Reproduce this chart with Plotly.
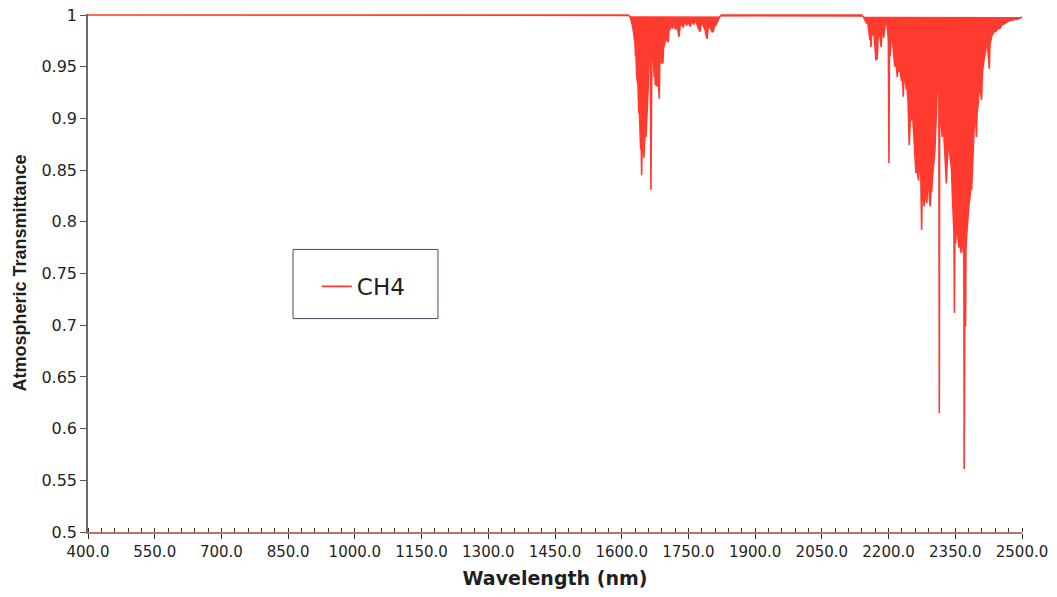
import plotly.graph_objects as go

# ---- data ----
wavelength_nm = [
    400, 1615, 1619, 1622, 1624, 1626, 1628, 1629.8, 1631, 1632, 1633.5, 1635, 1636,
    1637.2, 1638.5, 1639.5, 1641, 1642.5, 1643.5, 1644.8, 1645.8, 1647, 1648.5, 1650,
    1651.5, 1653, 1654.5, 1655.5, 1656.7, 1658, 1659.5, 1660.5, 1662, 1663.5, 1664.5,
    1665.7, 1666.7, 1668, 1669.5, 1671, 1673, 1674.5, 1675.5, 1676.5, 1678, 1679,
    1680.5, 1682, 1684.5, 1685.5, 1687, 1689.8, 1691, 1692.5, 1694, 1697, 1699, 1701,
    1704.7, 1706, 1708, 1711, 1714, 1718, 1721, 1724, 1727, 1729, 1731, 1735, 1738,
    1742, 1746, 1750, 1754, 1758, 1762, 1766, 1770, 1773, 1776, 1778, 1781, 1784,
    1788, 1790, 1792, 1794, 1797, 1800, 1803, 1806, 1808, 1811, 1814, 1817, 1820, 1824,
    2140, 2144, 2148, 2150.6, 2153, 2155, 2158, 2159, 2160.5, 2162, 2164, 2166, 2168,
    2170, 2171.6, 2173, 2174.5, 2176, 2178, 2180.5, 2182, 2183.5, 2185, 2187, 2189,
    2191, 2193, 2195.6, 2198, 2199.5, 2200.8, 2202, 2203.5, 2205, 2207, 2209, 2211,
    2213, 2214, 2215.5, 2217, 2219.5, 2221, 2223, 2225, 2227, 2229, 2231, 2233, 2234.5,
    2236, 2238, 2240, 2242, 2244, 2246.5, 2248, 2250, 2252, 2254, 2256, 2258, 2259.5,
    2261.5, 2263, 2264.5, 2266, 2267.5, 2269, 2271, 2272.5, 2274.3, 2276, 2278, 2280,
    2282, 2284, 2286, 2288, 2290, 2292, 2293.7, 2295, 2297, 2299, 2300.4, 2302, 2304,
    2306, 2308, 2310, 2312, 2313, 2314, 2315, 2316.5, 2318, 2320.7, 2322, 2324, 2326,
    2328, 2330, 2332, 2334, 2336, 2338, 2340, 2341.7, 2343.5, 2345.4, 2347, 2348, 2349,
    2350.6, 2352, 2354, 2356, 2358, 2360, 2362.7, 2364, 2366, 2368, 2369.3, 2370,
    2370.8, 2372, 2373, 2374, 2376, 2377.5, 2379, 2381, 2383, 2385, 2386.7, 2388.5,
    2390.5, 2392, 2394, 2396, 2397.5, 2399, 2401.6, 2403.5, 2405, 2407, 2409, 2411,
    2413, 2415, 2417, 2419, 2421, 2423, 2424.5, 2426.4, 2428, 2430, 2432, 2435.4, 2438,
    2441, 2444, 2447, 2450, 2454, 2458, 2462, 2466, 2470, 2473, 2478, 2484, 2490, 2495,
    2500,
]

ch4_transmittance = [
    1.0, 1.0, 0.998, 0.994, 0.990, 0.985, 0.980, 0.973, 0.960, 0.965, 0.944, 0.935, 0.940,
    0.918, 0.905, 0.912, 0.889, 0.870, 0.880, 0.845, 0.872, 0.868, 0.875, 0.862,
    0.878, 0.885, 0.882, 0.898, 0.893, 0.915, 0.930, 0.960, 0.979, 0.975, 0.965,
    0.831, 0.968, 0.972, 0.978, 0.955, 0.940, 0.950, 0.932, 0.952, 0.945, 0.931,
    0.955, 0.938, 0.919, 0.955, 0.962, 0.953, 0.960, 0.953, 0.968, 0.973, 0.980, 0.976,
    0.974, 0.985, 0.986, 0.990, 0.987, 0.991, 0.986, 0.990, 0.983, 0.979, 0.989, 0.992, 0.988,
    0.994, 0.990, 0.993, 0.989, 0.994, 0.991, 0.995, 0.990, 0.986, 0.984, 0.990, 0.993, 0.989,
    0.985, 0.980, 0.977, 0.986, 0.990, 0.987, 0.984, 0.984, 0.989, 0.990, 0.993, 0.995, 0.998, 1.0,
    1.0, 0.998, 0.995, 0.992, 0.994, 0.985, 0.976, 0.982, 0.969, 0.985, 0.980, 0.990, 0.975,
    0.962, 0.956, 0.970, 0.957, 0.975, 0.985, 0.979, 0.972, 0.969, 0.984, 0.990, 0.978,
    0.988, 0.994, 0.992, 0.985, 0.975, 0.857, 0.970, 0.960, 0.975, 0.985, 0.975, 0.965,
    0.955, 0.950, 0.962, 0.950, 0.940, 0.952, 0.945, 0.950, 0.942, 0.936, 0.945, 0.921, 0.940,
    0.945, 0.935, 0.928, 0.930, 0.915, 0.874, 0.905, 0.912, 0.898, 0.905, 0.890, 0.875, 0.866,
    0.847, 0.862, 0.850, 0.844, 0.840, 0.858, 0.852, 0.845, 0.792, 0.840, 0.825, 0.815,
    0.830, 0.822, 0.818, 0.835, 0.840, 0.822, 0.815, 0.828, 0.830, 0.845, 0.853, 0.860, 0.868,
    0.890, 0.908, 0.925, 0.950, 0.965, 0.615, 0.960, 0.905, 0.895, 0.882, 0.905, 0.890, 0.865,
    0.850, 0.837, 0.860, 0.869, 0.880, 0.865, 0.855, 0.850, 0.825, 0.805, 0.790, 0.712, 0.785,
    0.779, 0.790, 0.799, 0.785, 0.775, 0.790, 0.770, 0.785, 0.780, 0.770, 0.775, 0.561,
    0.770, 0.775, 0.699, 0.775, 0.790, 0.800, 0.808, 0.818, 0.824, 0.835, 0.831, 0.850,
    0.882, 0.895, 0.908, 0.900, 0.882, 0.905, 0.915, 0.930, 0.934, 0.925, 0.918, 0.945,
    0.953, 0.958, 0.962, 0.970, 0.973, 0.968, 0.960, 0.948, 0.972, 0.978, 0.980, 0.982, 0.985,
    0.984, 0.986, 0.988, 0.987, 0.990, 0.991, 0.992, 0.993, 0.994, 0.995, 0.995, 0.996, 0.996, 0.997,
    0.998,
]

x_tick_values = [400, 550, 700, 850, 1000, 1150, 1300, 1450, 1600, 1750, 1900, 2050, 2200, 2350, 2500]
x_tick_labels = ["400.0", "550.0", "700.0", "850.0", "1000.0", "1150.0", "1300.0", "1450.0",
                 "1600.0", "1750.0", "1900.0", "2050.0", "2200.0", "2350.0", "2500.0"]
y_tick_values = [0.5, 0.55, 0.6, 0.65, 0.7, 0.75, 0.8, 0.85, 0.9, 0.95, 1.0]
y_tick_labels = ["0.5", "0.55", "0.6", "0.65", "0.7", "0.75", "0.8", "0.85", "0.9", "0.95", "1"]
series_name = "CH4"

RED = "#FF3B30"

fig = go.Figure()
# filled body of the dense absorption lines
fig.add_trace(go.Scatter(
    x=wavelength_nm, y=ch4_transmittance, mode="lines", name=series_name,
    line=dict(color=RED, width=0), fill="toself", fillcolor=RED,
    showlegend=False, hoverinfo="skip",
))
# the spectrum line itself (legend entry)
fig.add_trace(go.Scatter(
    x=wavelength_nm, y=ch4_transmittance, mode="lines", name=series_name,
    line=dict(color=RED, width=1.6), showlegend=True,
))

tick_font = dict(family="DejaVu Sans", size=15, color="#1f1f1f")

fig.update_layout(
    width=1057, height=597,
    margin=dict(l=88, r=35, t=14, b=65, autoexpand=False),
    paper_bgcolor="white", plot_bgcolor="white",
    showlegend=True,
    legend=dict(x=0.245, y=0.474, xanchor="left", yanchor="middle",
                bgcolor="rgba(0,0,0,0)", borderwidth=0,
                font=dict(family="DejaVu Sans", size=23, color="#1f1f1f")),
    shapes=[dict(type="rect", xref="paper", yref="paper",
                 x0=0.2195, x1=0.3747, y0=0.412, y1=0.5455,
                 line=dict(color="#3f4f62", width=1), fillcolor="white", layer="below")],
    xaxis=dict(
        range=[400, 2500], showgrid=False, zeroline=False, automargin=False,
        showline=True, linecolor="#b07a60", linewidth=1.5,
        tickmode="array", tickvals=x_tick_values, ticktext=x_tick_labels,
        ticks="outside", ticklen=5, tickwidth=1, tickcolor="#333333",
        minor=dict(dtick=30, tick0=400, ticks="inside", ticklen=4, tickwidth=1, tickcolor="#333333"),
        tickfont=tick_font,
        title=dict(text="Wavelength (nm)", standoff=12,
                   font=dict(family="DejaVu Sans", size=19, color="#1f1f1f", weight="bold")),
    ),
    xaxis2=dict(
        overlaying="x", anchor="y", side="bottom", range=[400, 2500], automargin=False,
        showgrid=False, zeroline=False, showline=False, showticklabels=False,
        tickmode="array", tickvals=x_tick_values,
        ticks="inside", ticklen=5, tickwidth=1, tickcolor="#333333",
    ),
    yaxis=dict(
        range=[0.5, 1.001], showgrid=False, zeroline=False, automargin=False,
        showline=True, linecolor="#6a6a6a", linewidth=1.5,
        tickmode="array", tickvals=y_tick_values, ticktext=y_tick_labels,
        ticks="outside", ticklen=6, tickwidth=1, tickcolor="#555555",
        tickfont=dict(family="DejaVu Sans", size=16, color="#1f1f1f"),
        title=dict(text="Atmospheric Transmittance", standoff=10,
                   font=dict(family="Liberation Sans", size=18, color="#1f1f1f", weight="bold")),
    ),
)

fig.write_html("out.html", config={"displayModeBar": False},
               post_script="document.body.style.margin='0';")
